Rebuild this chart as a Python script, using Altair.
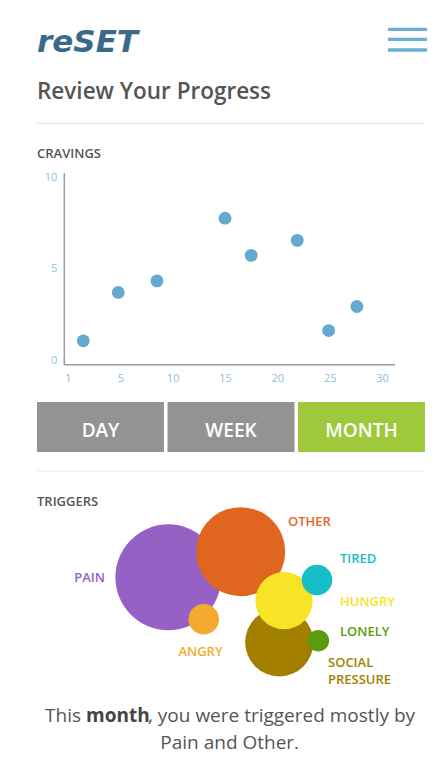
import altair as alt
import pandas as pd

# ---------------- data ----------------
# cravings scatter (x = day position on the 0-30 axis, y = craving level)
day_pos = [1.46, 4.8, 8.5, 15.0, 17.5, 21.9, 24.9, 27.6]
craving = [1.08, 3.72, 4.35, 7.77, 5.74, 6.56, 1.64, 2.95]
x_tick_values = [0, 5, 10, 15, 20, 25, 30]
x_tick_labels = ["1", "5", "10", "15", "20", "25", "30"]
y_tick_values = [0, 5, 10]

# period selector
periods = ["DAY", "WEEK", "MONTH"]
selected_period = "MONTH"

# triggers bubble chart
triggers = ["PAIN", "OTHER", "ANGRY", "SOCIAL PRESSURE", "HUNGRY", "TIRED", "LONELY"]
trigger_counts = [24, 17, 2, 10, 7, 2, 1]
trigger_labels = ["PAIN", "OTHER", "ANGRY", "SOCIAL\nPRESSURE", "HUNGRY", "TIRED", "LONELY"]
trigger_colors = ["#9561c5", "#e0661f", "#f4ab2d", "#a37f00", "#f7e426", "#16bfc8", "#5b9b0e"]
# packed layout (layout units) for bubble centres and their labels
bubble_x = [160.3, 232.7, 195.7, 271.3, 276.0, 309.0, 310.3]
bubble_y = [569.3, 543.7, 611.3, 634.3, 592.7, 572.0, 632.7]
label_x = [97.0, 280.0, 192.5, 320.0, 332.0, 332.0, 332.0]
label_y = [569.7, 513.7, 644.3, 655.0, 594.3, 551.3, 624.3]
label_align = ["right", "left", "center", "left", "left", "left", "left"]

# ---------------- layout ----------------
W, H = 429, 755
BODY = "Open Sans"
TXT = "#555555"
one = pd.DataFrame({"k": [0]})


def txt(text, x, y, size, color, weight="normal", align="left",
        baseline="alphabetic", font=BODY, style="normal"):
    return alt.Chart(one).mark_text(
        text=text, align=align, baseline=baseline, font=font, fontSize=size,
        fontWeight=weight, fontStyle=style, color=color
    ).encode(x=alt.value(x), y=alt.value(y))


def hline(x1, x2, y, color, width):
    return alt.Chart(one).mark_rule(color=color, strokeWidth=width).encode(
        x=alt.value(x1), x2=alt.value(x2), y=alt.value(y))


decor = [
    txt("reSET", 29, 44, 31, "#3a6a88", weight="bold", font="DejaVu Sans", style="italic"),
    hline(380, 419, 21.3, "#6ab0d4", 3.3),
    hline(380, 419, 31.3, "#6ab0d4", 3.3),
    hline(380, 419, 42.0, "#6ab0d4", 3.3),
    txt("Review Your Progress", 29, 91.3, 22.5, "#555555", weight=600),
    hline(29, 417, 115.3, "#e8e8e8", 1.2),
    txt("CRAVINGS", 29, 150.3, 13, TXT, weight=600),
    hline(29, 417, 463, "#ececec", 1.2),
    txt("TRIGGERS", 29, 497.7, 13, TXT, weight=600),
    txt("This", 73, 714.3, 19, TXT, align="right"),
    txt("month", 78, 714.3, 19, "#444444", weight="bold"),
    txt(", you were triggered mostly by", 140, 714.3, 19, TXT),
    txt("Pain and Other.", 221.7, 741, 19, TXT, align="center"),
]

# ---- scatter ----
label_expr = " : ".join(
    f"datum.value == {v} ? '{l}'" for v, l in zip(x_tick_values, x_tick_labels)
) + " : datum.label"

scatter_df = pd.DataFrame({"day": day_pos, "craving": craving})
scatter = alt.Chart(scatter_df).mark_circle(size=165, color="#63a9d0", opacity=1).encode(
    x=alt.X("day:Q",
            scale=alt.Scale(domain=[-0.4, 31.2], range=[55.8, 386.6], nice=False, zero=False),
            axis=alt.Axis(orient="bottom", offset=356.3 - H, values=x_tick_values,
                          labelExpr=label_expr, title=None, grid=False, ticks=False,
                          domainColor="#9a9a9a", domainWidth=1.5, labelColor="#8dc0dc",
                          labelFont=BODY, labelFontSize=11, labelPadding=8,
                          labelFlush=False, labelOverlap=False)),
    y=alt.Y("craving:Q",
            scale=alt.Scale(domain=[-0.2, 10.25], range=[356.3, 164.7], nice=False, zero=False),
            axis=alt.Axis(orient="left", offset=-55.8, values=y_tick_values, title=None,
                          grid=False, ticks=False, domainColor="#9a9a9a", domainWidth=1.5,
                          labelColor="#8dc0dc", labelFont=BODY, labelFontSize=11,
                          labelPadding=7, labelFlush=False, labelOverlap=False)),
)

# ---- buttons ----
btn_df = pd.DataFrame({"period": periods})
bx = alt.X("period:N", sort=periods,
           scale=alt.Scale(domain=periods, range=[29, 417], paddingInner=0.027, paddingOuter=0),
           axis=None)
bars = alt.Chart(btn_df).mark_bar().encode(
    x=bx, y=alt.value(394), y2=alt.value(444),
    color=alt.condition(alt.datum.period == selected_period,
                        alt.value("#9dc93b"), alt.value("#939393")))
btn_text = alt.Chart(btn_df).mark_text(
    baseline="alphabetic", font=BODY, fontSize=19, fontWeight=600, color="white"
).encode(x=bx, y=alt.value(429.3), text="period:N")
buttons = alt.layer(bars, btn_text)

# ---- bubbles ----
bub_df = pd.DataFrame({"trigger": triggers, "count": trigger_counts,
                       "bx": bubble_x, "by": bubble_y, "order": list(range(len(triggers)))})
lab_df = pd.DataFrame({"trigger": triggers, "label": trigger_labels,
                       "lx": label_x, "ly": label_y, "align": label_align})
xs = alt.Scale(domain=[0, W], range=[0, W], nice=False, zero=False)
ys = alt.Scale(domain=[0, H], range=[0, H], nice=False, zero=False)
cs = alt.Scale(domain=triggers, range=trigger_colors)

bubbles = alt.Chart(bub_df).mark_circle(opacity=1).encode(
    x=alt.X("bx:Q", scale=xs, axis=None),
    y=alt.Y("by:Q", scale=ys, axis=None),
    size=alt.Size("count:Q", scale=alt.Scale(domain=[0, 24], range=[0, 11198]), legend=None),
    color=alt.Color("trigger:N", scale=cs, legend=None),
    order="order:Q",
)

label_layers = []
for al in ["left", "right", "center"]:
    for line_no in [0, 1]:
        base = alt.Chart(lab_df).transform_filter(alt.datum.align == al)
        if line_no == 1:
            base = base.transform_filter("indexof(datum.label, '\\n') >= 0")
        label_layers.append(
            base.transform_calculate(
                line=f"split(datum.label, '\\n')[{line_no}]"
            ).mark_text(
                align=al, baseline="middle", font=BODY, fontSize=13, fontWeight=600,
                dy=16.8 * line_no
            ).encode(
                x=alt.X("lx:Q", scale=xs, axis=None),
                y=alt.Y("ly:Q", scale=ys, axis=None),
                text="line:N",
                color=alt.Color("trigger:N", scale=cs, legend=None),
            )
        )
bubble_layer = alt.layer(bubbles, *label_layers)

chart = alt.layer(*decor, scatter, buttons, bubble_layer).resolve_scale(
    x="independent", y="independent"
).properties(width=W, height=H, padding=0, background="white").configure_view(stroke=None)

chart.save("out.html", embed_options={"renderer": "svg", "actions": False})
